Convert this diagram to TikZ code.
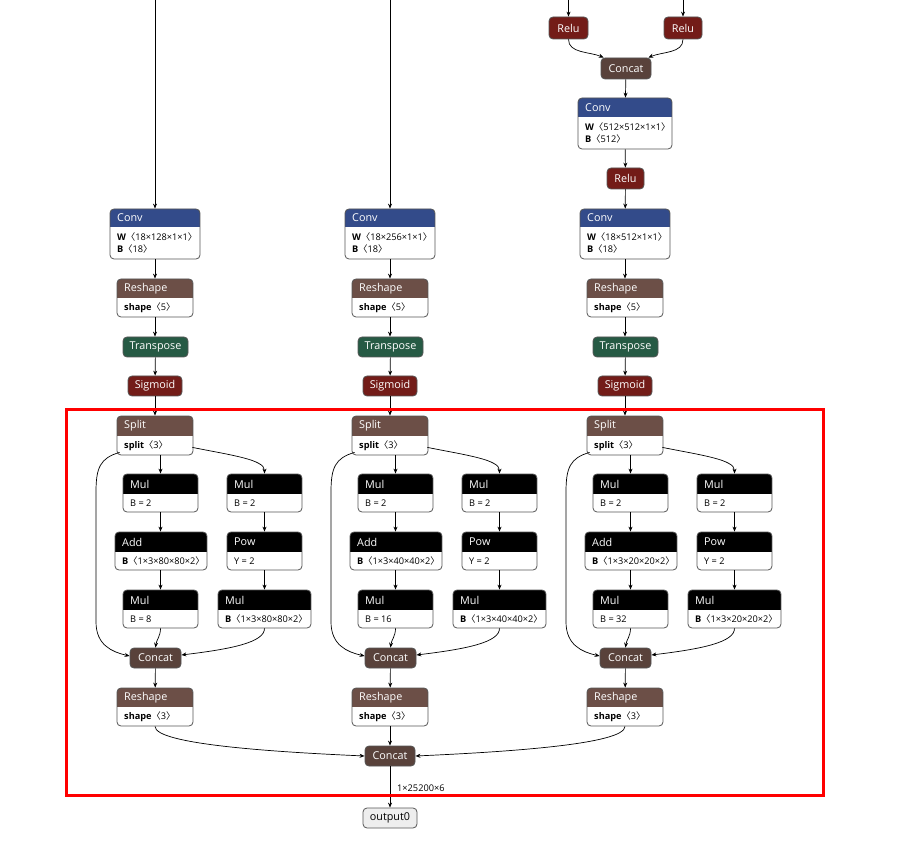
\documentclass[tikz,border=0pt]{standalone}
\usepackage{fontspec}
\setmainfont{Open Sans}
\newfontfamily\cjk{Noto Sans CJK SC}
\usetikzlibrary{arrows.meta}
\newcommand\br[1]{{\cjk 〈}#1{\cjk 〉}}
\newcommand\hfont{\fontsize{10.8}{12}\selectfont}
\newcommand\bfont{\fontsize{9.2}{12}\selectfont}
\definecolor{convblue}{RGB}{51,75,138}
\definecolor{shapebrown}{RGB}{108,79,71}
\definecolor{tensorbrown}{RGB}{89,66,59}
\definecolor{transgreen}{RGB}{38,90,68}
\definecolor{actred}{RGB}{115,28,24}
\definecolor{outgray}{RGB}{238,238,238}
\definecolor{bordergray}{RGB}{85,85,85}
\tikzset{
  opbox/.style={draw=bordergray, line width=0.8pt, fill=white, rounded corners=4pt, inner sep=0pt},
  hdr/.style={text=white, font=\hfont, inner sep=0pt},
  bdy/.style={text=black, font=\bfont, inner sep=0pt, align=left},
  snode/.style={draw=bordergray, line width=0.8pt, rounded corners=4pt, inner sep=0pt, text=white, font=\hfont, minimum height=20pt},
  edge/.style={line width=0.7pt, -{Stealth[length=5pt,width=4pt]}},
}
% name, x1, y1, x2, y2, header bottom y, colour, title, body
\newcommand\hnode[9]{%
  \node[opbox, minimum width={(#4-#2)*1pt}, minimum height={(#5-#3)*1pt},
    path picture={\fill[#7, sharp corners] ([yshift=2pt]path picture bounding box.north west) rectangle ([yshift={-(#6-#3)*1pt}]path picture bounding box.north east);}]
    (#1) at ({(#2+#4)/2},{(#3+#5)/2}) {};
  \node[hdr, anchor=west] (#1-t) at ({#2+7},{(#3+#6)/2}) {#8};
  \node[bdy, anchor=west] (#1-b) at ({#2+7},{(#6+#5)/2}) {#9};
}
\begin{document}
\begin{tikzpicture}[x=1pt,y=-1pt]
\useasboundingbox (0,0) rectangle (906,861);

% upper part of the right column
\node[snode, fill=actred, minimum width=39pt, minimum height=22pt] (relu1) at (568.5,28) {Relu};
\node[snode, fill=actred, minimum width=38pt, minimum height=22pt] (relu2) at (683,28) {Relu};
\node[snode, fill=tensorbrown, minimum width=50pt, minimum height=21pt] (concatT) at (626,68.5) {Concat};
\hnode{convT}{578}{98}{672}{149}{117}{convblue}{Conv}{\textbf{W}\br{512×512×1×1}\\\textbf{B}\br{512}}
\node[snode, fill=actred, minimum width=37pt, minimum height=21pt] (reluT) at (625.5,178.5) {Relu};

\coordinate (top1) at (155,0);
\coordinate (top2) at (390,0);
\coordinate (top3) at (568.5,0);
\coordinate (top4) at (683,0);
\draw[edge] (top3) -- (relu1);
\draw[edge] (top4) -- (relu2);
\draw[edge] (relu1.south) .. controls +(0,14) and +(-14,-6) .. ([xshift=3pt]concatT.north west);
\draw[edge] (relu2.south) .. controls +(0,14) and +(14,-6) .. ([xshift=-3pt]concatT.north east);
\draw[edge] (concatT) -- (convT);
\draw[edge] (convT) -- (reluT);

\foreach \dx/\c/\cin/\g/\k in {0/1/128/80/8, 235/2/256/40/16, 470/3/512/20/32} {
\begin{scope}[xshift=\dx pt]
  \hnode{conv\c}{110}{209}{200}{259}{227}{convblue}{Conv}{\textbf{W}\br{18×\cin×1×1}\\\textbf{B}\br{18}}
  \hnode{reshape\c}{117}{279}{193}{317}{298}{shapebrown}{Reshape}{\textbf{shape}\br{5}}
  \node[snode, fill=transgreen, minimum width=65pt] (trans\c) at (155.5,347) {Transpose};
  \node[snode, fill=actred, minimum width=54pt] (sig\c) at (155,386) {Sigmoid};
  \hnode{split\c}{117}{416}{193}{455}{436}{shapebrown}{Split}{\textbf{split}\br{3}}
  \hnode{mulA\c}{123}{474}{198}{512}{494}{black}{Mul}{B = 2}
  \hnode{mulB\c}{227}{474}{302}{512}{494}{black}{Mul}{B = 2}
  \hnode{add\c}{115}{532}{207}{570}{552}{black}{Add}{\textbf{B}\br{1×3×\g×\g×2}}
  \hnode{pow\c}{227}{532}{302}{570}{552}{black}{Pow}{Y = 2}
  \hnode{mulC\c}{123}{590}{198}{628}{610}{black}{Mul}{B = \k}
  \hnode{mulD\c}{218}{590}{311}{628}{610}{black}{Mul}{\textbf{B}\br{1×3×\g×\g×2}}
  \node[snode, fill=tensorbrown, minimum width=51pt] (concat\c) at (155.5,658) {Concat};
  \hnode{reshapeB\c}{117}{688}{193}{726}{707}{shapebrown}{Reshape}{\textbf{shape}\br{3}}

  \draw[edge] (conv\c.south) -- (reshape\c.north);
  \draw[edge] (reshape\c.south) -- (trans\c.north -| reshape\c.south);
  \draw[edge] (trans\c) -- (sig\c);
  \draw[edge] (sig\c) -- (split\c);
  \draw[edge] (split\c.south -| mulA\c.north) -- (mulA\c.north);
  \draw[edge] ([shift={(-1,-8)}]split\c.south east) .. controls +(40,8) and +(0,-14) .. (mulB\c.north);
  \draw[edge] ([shift={(3,-3)}]split\c.south west) .. controls (100,458) and (96,468) .. (96,492) -- (96,622) .. controls (96,645) and (112,652) .. ([yshift=2pt]concat\c.west);
  \draw[edge] (mulA\c.south) -- (add\c.north -| mulA\c.south);
  \draw[edge] (add\c.south -| mulC\c.north) -- (mulC\c.north);
  \draw[edge] (mulB\c) -- (pow\c);
  \draw[edge] (pow\c) -- (mulD\c);
  \draw[edge] (mulC\c.south) .. controls +(0,8) and +(1,-8) .. (concat\c.north);
  \draw[edge] (mulD\c.south) .. controls +(0,14) and +(50,-6) .. ([yshift=3pt]concat\c.east);
  \draw[edge] (concat\c) -- (reshapeB\c);
\end{scope}
}

\draw[edge] (top1) -- (conv1);
\draw[edge] (top2) -- (conv2);
\draw[edge] (reluT) -- (conv3);

\node[snode, fill=tensorbrown, minimum width=50pt] (fconcat) at (390,756) {Concat};
\node[snode, fill=outgray, text=black, minimum width=54pt] (out) at (390,818) {output0};
\draw[edge] (reshapeB1.south) .. controls +(0,18) and +(-90,-4) .. (fconcat.west);
\draw[edge] (reshapeB2) -- (fconcat);
\draw[edge] (reshapeB3.south) .. controls +(0,18) and +(90,-4) .. (fconcat.east);
\draw[edge] (fconcat) -- (out);
\node[bdy, anchor=west] (lbl) at (397,788) {1×25200×6};

\draw[red, line width=3pt] (66,409) rectangle (823.5,795.5);
\end{tikzpicture}
\end{document}
